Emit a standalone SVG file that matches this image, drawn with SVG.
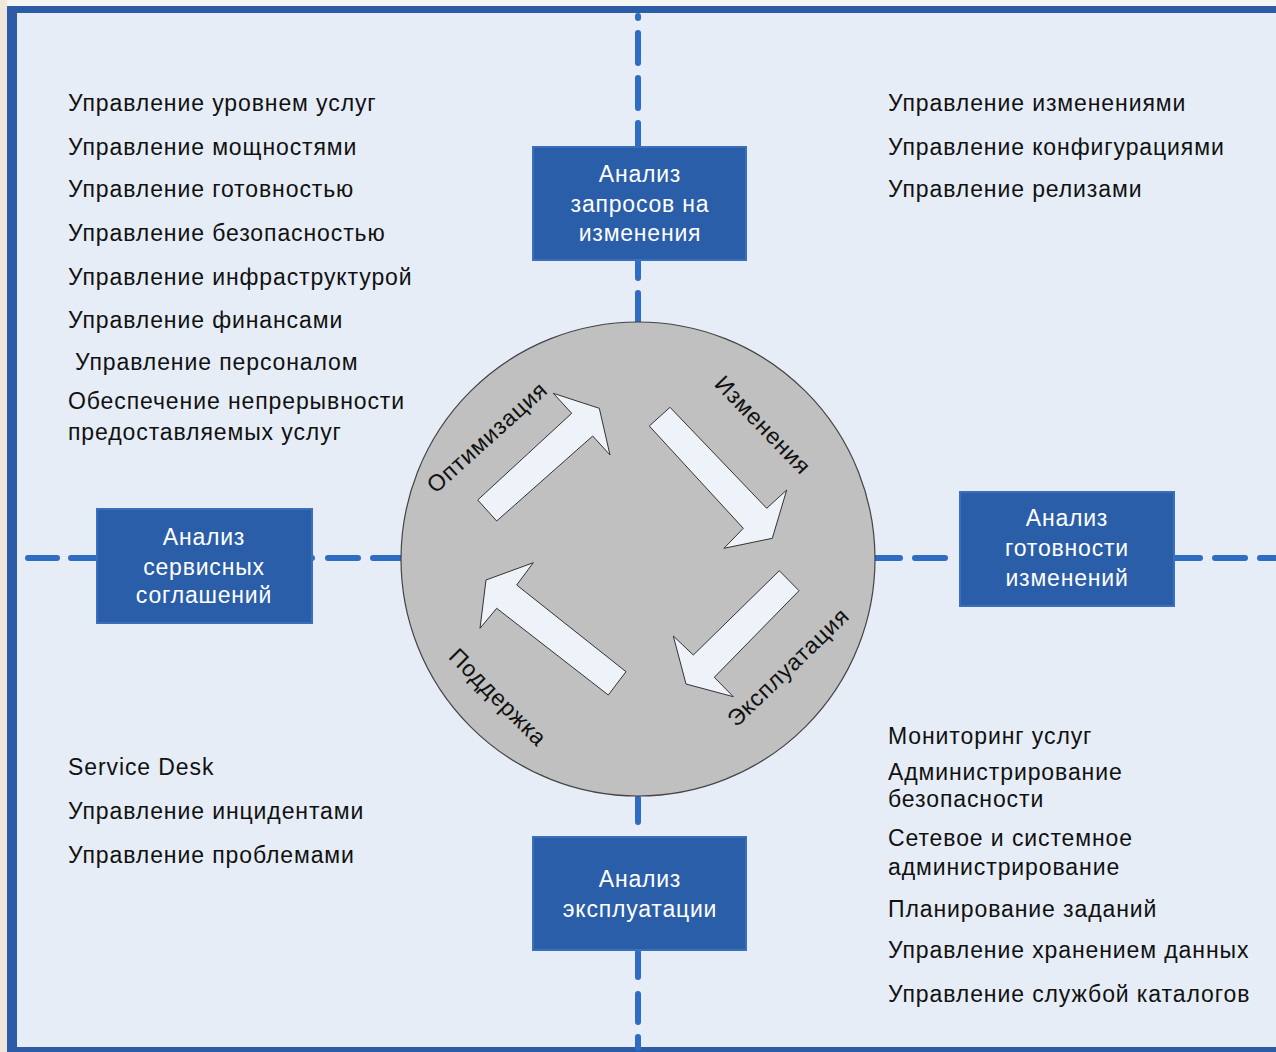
<svg xmlns="http://www.w3.org/2000/svg" width="1276" height="1052" viewBox="0 0 1276 1052">
<style>
.t{font-family:"Liberation Sans",Arial,sans-serif;font-size:23px;letter-spacing:0.9px;fill:#111}
.bt{font-family:"Liberation Sans",Arial,sans-serif;font-size:23px;letter-spacing:0.8px;fill:#fff;text-anchor:middle}
.rt{font-family:"Liberation Sans",Arial,sans-serif;font-size:23px;letter-spacing:0.8px;fill:#111;text-anchor:middle}
.box{fill:#2a5ea8;stroke:#3a70bb;stroke-width:2}
.dash{stroke:#2f6cc4;stroke-width:6;stroke-linecap:round;fill:none}
.arr{fill:#eef3fa;stroke:#333;stroke-width:1}
</style>
<rect x="0" y="0" width="1276" height="1052" fill="#f4f6f6"/>
<rect x="0" y="0" width="7" height="1052" fill="#f0e6da"/>
<rect x="12" y="10" width="1270" height="1038" fill="#e6edf7"/>
<g id="frame" fill="#2b5ca5">
<rect x="7" y="6" width="1269" height="7"/>
<rect x="7" y="6" width="10" height="1046"/>
<rect x="7" y="1047" width="1269" height="5"/>
</g>
<g id="connectors">
<line class="dash" x1="638" y1="16" x2="638" y2="147" stroke-dasharray="30 15" stroke-dashoffset="28"/>
<line class="dash" x1="638" y1="262" x2="638" y2="322" stroke-dasharray="16 15 30 15"/>
<line class="dash" x1="638" y1="798" x2="638" y2="836" stroke-dasharray="24 20"/>
<line class="dash" x1="638" y1="952" x2="638" y2="1048" stroke-dasharray="25 17 28 15"/>
<line class="dash" x1="28" y1="558" x2="97" y2="558" stroke-dasharray="29 14"/>
<line class="dash" x1="312" y1="558" x2="402" y2="558" stroke-dasharray="0 16 30 15 30 15"/>
<line class="dash" x1="875" y1="558" x2="960" y2="558" stroke-dasharray="25 15 30 15"/>
<line class="dash" x1="1174" y1="558" x2="1276" y2="558" stroke-dasharray="26 15 30 15"/>
</g>
<g id="cycle">
<circle cx="638" cy="559" r="237" fill="#c0c0c0" stroke="#444" stroke-width="1.2"/>
<polygon class="arr" points="477.7,500 571.7,413.3 553.3,393.3 599.3,408.3 610,455 592.7,436 496.7,521"/>
<polygon class="arr" points="649.3,426 670,407.3 766.7,508.3 786.7,490 772.3,538.3 724,548.3 743.3,528.3"/>
<polygon class="arr" points="779.3,570.7 799,590.7 714.3,677.3 733.3,696.7 686,684 673.3,636 693.3,655"/>
<polygon class="arr" points="626,671.7 608.3,695 496.7,608.3 480,628.3 486,580 533.3,562.7 516.7,585"/>
<text class="rt" transform="translate(487,437) rotate(-42)" y="8">Оптимизация</text>
<text class="rt" transform="translate(763,425) rotate(46)" y="8">Изменения</text>
<text class="rt" transform="translate(788,667) rotate(-44)" y="8">Эксплуатация</text>
<text class="rt" transform="translate(498,697) rotate(45)" y="8">Поддержка</text>
</g>
<g id="box-top">
<rect class="box" x="533" y="147" width="213" height="113"/>
<text class="bt" x="640" y="182">Анализ</text>
<text class="bt" x="640" y="212">запросов на</text>
<text class="bt" x="640" y="241">изменения</text>
</g>
<g id="box-left">
<rect class="box" x="97" y="509" width="215" height="114"/>
<text class="bt" x="204" y="545">Анализ</text>
<text class="bt" x="204" y="575">сервисных</text>
<text class="bt" x="204" y="603">соглашений</text>
</g>
<g id="box-right">
<rect class="box" x="960" y="492" width="214" height="114"/>
<text class="bt" x="1067" y="526">Анализ</text>
<text class="bt" x="1067" y="556">готовности</text>
<text class="bt" x="1067" y="586">изменений</text>
</g>
<g id="box-bottom">
<rect class="box" x="533" y="837" width="213" height="113"/>
<text class="bt" x="640" y="887">Анализ</text>
<text class="bt" x="640" y="917">эксплуатации</text>
</g>
<g id="list-top-left">
<text class="t" x="68" y="111">Управление уровнем услуг</text>
<text class="t" x="68" y="155">Управление мощностями</text>
<text class="t" x="68" y="197">Управление готовностью</text>
<text class="t" x="68" y="241">Управление безопасностью</text>
<text class="t" x="68" y="285">Управление инфраструктурой</text>
<text class="t" x="68" y="328">Управление финансами</text>
<text class="t" x="75" y="370">Управление персоналом</text>
<text class="t" x="68" y="409">Обеспечение непрерывности</text>
<text class="t" x="68" y="440">предоставляемых услуг</text>
</g>
<g id="list-top-right">
<text class="t" x="888" y="111">Управление изменениями</text>
<text class="t" x="888" y="155">Управление конфигурациями</text>
<text class="t" x="888" y="197">Управление релизами</text>
</g>
<g id="list-bottom-left">
<text class="t" x="68" y="775">Service Desk</text>
<text class="t" x="68" y="819">Управление инцидентами</text>
<text class="t" x="68" y="863">Управление проблемами</text>
</g>
<g id="list-bottom-right">
<text class="t" x="888" y="744">Мониторинг услуг</text>
<text class="t" x="888" y="780">Администрирование</text>
<text class="t" x="888" y="807">безопасности</text>
<text class="t" x="888" y="846">Сетевое и системное</text>
<text class="t" x="888" y="875">администрирование</text>
<text class="t" x="888" y="917">Планирование заданий</text>
<text class="t" x="888" y="958">Управление хранением данных</text>
<text class="t" x="888" y="1002">Управление службой каталогов</text>
</g>
</svg>
